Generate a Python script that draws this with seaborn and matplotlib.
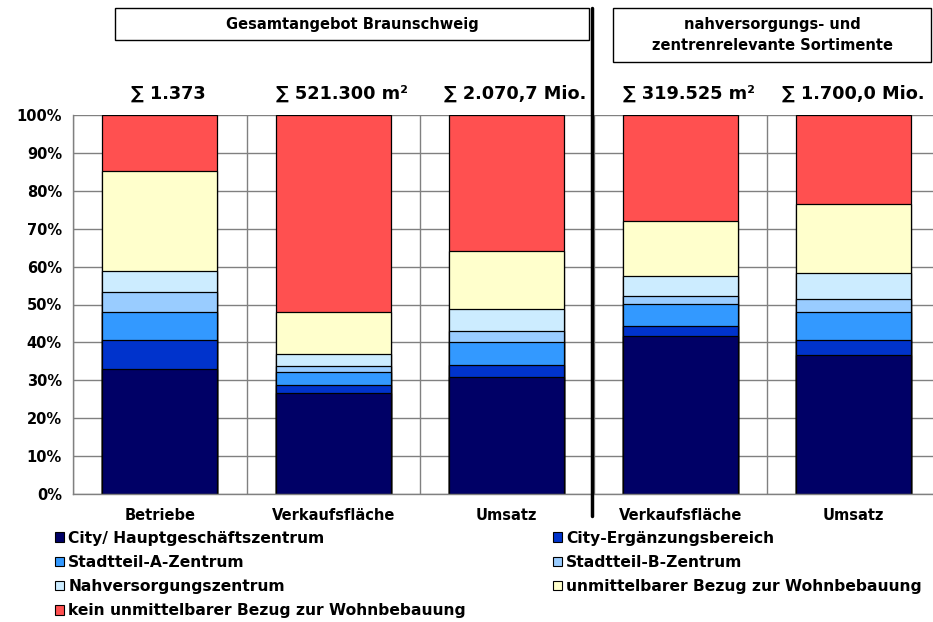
import numpy as np
import pandas as pd
import seaborn as sns
import matplotlib
matplotlib.use("Agg")
import matplotlib.pyplot as plt
from matplotlib.patches import Patch, Rectangle
from matplotlib.lines import Line2D
from matplotlib.ticker import FuncFormatter, FixedLocator

# ---------------- data ----------------
categories = ["Betriebe", "Verkaufsfläche", "Umsatz", "Verkaufsfläche", "Umsatz"]
totals = ["∑ 1.373", "∑ 521.300 m²", "∑ 2.070,7 Mio.", "∑ 319.525 m²", "∑ 1.700,0 Mio."]
group_titles = ["Gesamtangebot Braunschweig", "nahversorgungs- und\nzentrenrelevante Sortimente"]

series_names = [
    "City/ Hauptgeschäftszentrum",
    "City-Ergänzungsbereich",
    "Stadtteil-A-Zentrum",
    "Stadtteil-B-Zentrum",
    "Nahversorgungszentrum",
    "unmittelbarer Bezug zur Wohnbebauung",
    "kein unmittelbarer Bezug zur Wohnbebauung",
]
city_haupt = [33.0, 26.6, 30.8, 41.6, 36.8]
city_erg = [7.7, 2.1, 3.2, 2.6, 3.8]
stadtteil_a = [7.4, 3.5, 6.0, 6.0, 7.4]
stadtteil_b = [5.1, 1.5, 3.1, 2.1, 3.4]
nahversorgung = [5.6, 3.3, 5.7, 5.1, 7.0]
unmittelbar = [26.5, 11.0, 15.4, 14.6, 18.1]
kein_bezug = [14.7, 52.0, 35.8, 28.0, 23.5]
series_values = [city_haupt, city_erg, stadtteil_a, stadtteil_b, nahversorgung, unmittelbar, kein_bezug]
colors = ["#000066", "#0033CC", "#3399FF", "#99CCFF", "#CCECFF", "#FFFFCC", "#FF5050"]

# ---------------- long table with cumulative tops ----------------
pos_keys = [f"c{i}" for i in range(len(categories))]
rows = []
cum = np.zeros(len(categories))
for name, vals in zip(series_names, series_values):
    cum = cum + np.array(vals)
    for k, v, t in zip(pos_keys, vals, cum):
        rows.append({"pos": k, "series": name, "value": v, "top": t})
df = pd.DataFrame(rows)

# ---------------- figure ----------------
sns.set_style("white")
plt.rcParams["font.family"] = ["DejaVu Sans"]
plt.rcParams["font.weight"] = "bold"
plt.rcParams["text.color"] = "black"
plt.rcParams["xtick.labelcolor"] = "black"
plt.rcParams["ytick.labelcolor"] = "black"

W, H = 933, 622
fig = plt.figure(figsize=(W / 100, H / 100), dpi=100)

def fx(px):
    return px / W

def fy(py):
    return 1 - py / H

ax_l, ax_r, ax_t, ax_b = 73, 940.5, 115, 494
ax = fig.add_axes([fx(ax_l), fy(ax_b), fx(ax_r - ax_l), fy(ax_t) - fy(ax_b)])

for name, color in reversed(list(zip(series_names, colors))):
    sub = df[df["series"] == name]
    sns.barplot(data=sub, x="pos", y="top", order=pos_keys, color=color,
                saturation=1, width=0.66, edgecolor="black", linewidth=0.9,
                ax=ax, errorbar=None)

ax.set_xlim(-0.5, len(categories) - 0.5)
ax.set_ylim(0, 100)
ax.set_xlabel("")
ax.set_ylabel("")
ax.set_xticks(range(len(categories)))
ax.set_xticklabels(categories, fontsize=10.5, fontweight="bold", color="black")
ax.xaxis.set_minor_locator(FixedLocator(np.arange(-0.5, len(categories), 1.0)))
ax.set_yticks(np.arange(0, 101, 10))
ax.yaxis.set_major_formatter(FuncFormatter(lambda v, p: f"{v:.0f}%"))
for lab in ax.get_yticklabels():
    lab.set_fontweight("bold")
    lab.set_fontsize(10.5)
    lab.set_color("black")
ax.tick_params(axis="x", which="major", length=0, pad=10)
ax.tick_params(axis="x", which="minor", length=5, width=1, color="#808080", direction="out")
ax.tick_params(axis="y", which="major", length=5, width=1, color="#808080", direction="out", pad=3)

ax.set_axisbelow(True)
ax.grid(axis="y", which="major", color="#808080", linewidth=1)
ax.grid(axis="x", which="minor", color="#808080", linewidth=1)
ax.grid(axis="x", which="major", visible=False)
for side in ["top", "right"]:
    ax.spines[side].set_visible(False)
ax.spines["left"].set_color("#808080")
ax.spines["bottom"].set_color("#808080")
ax.spines["left"].set_linewidth(1)
ax.spines["bottom"].set_linewidth(1)

# totals above bars
offsets = [0.05, 0.05, 0.05, 0.05, 0.0]
for i, t in enumerate(totals):
    ax.text(i + offsets[i], 1.055, t, transform=ax.get_xaxis_transform(), ha="center", va="center",
            fontsize=12.8, fontweight="bold", color="black")

# separator line between groups
fig.add_artist(Line2D([fx(592), fx(592)], [fy(8), fy(516)], color="black", linewidth=2.5))

# group header boxes
fig.add_artist(Rectangle((fx(115), fy(40)), fx(589 - 115), fy(8) - fy(40),
                         facecolor="white", edgecolor="black", linewidth=1))
fig.text(fx(352), fy(24), group_titles[0], ha="center", va="center", fontsize=10.5,
         fontweight="bold", color="black")
fig.add_artist(Rectangle((fx(613), fy(62)), fx(931 - 613), fy(8) - fy(62),
                         facecolor="white", edgecolor="black", linewidth=1))
fig.text(fx(772), fy(35), group_titles[1], ha="center", va="center", fontsize=10.5,
         fontweight="bold", linespacing=1.45, color="black")

# legend
handles = [Patch(facecolor=c, edgecolor="black", linewidth=0.8) for c in colors]
order = [0, 2, 4, 6, 1, 3, 5]
leg = fig.legend([handles[i] for i in order], [series_names[i] for i in order],
                 ncol=2, loc="upper left", bbox_to_anchor=(fx(55), fy(530.5)),
                 frameon=False, fontsize=11.2, handlelength=0.55, handleheight=0.55,
                 handletextpad=0.3, columnspacing=5.6, labelspacing=0.6,
                 borderpad=0, borderaxespad=0)
for txt in leg.get_texts():
    txt.set_fontweight("bold")
    txt.set_color("black")

fig.savefig("out.png", dpi=100)
